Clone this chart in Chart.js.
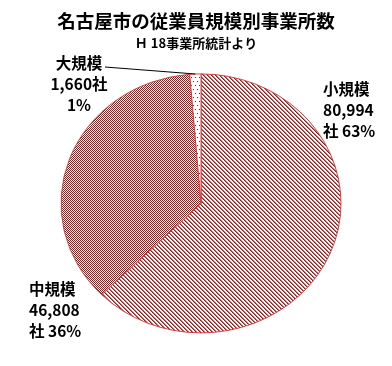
<!DOCTYPE html>
<html lang="ja">
<head>
<meta charset="utf-8">
<script src="https://cdn.jsdelivr.net/npm/chart.js@4.4.0/dist/chart.umd.min.js"></script>
<style>
  html, body { margin: 0; padding: 0; background: #fff; }
  #wrap { width: 392px; height: 366px; }
</style>
</head>
<body>
<div id="wrap"><canvas id="myChart" width="392" height="366"></canvas></div>
<script>
// data
const categories = ["小規模", "中規模", "大規模"];
const counts = [80994, 46808, 1660];
const percents = ["63%", "36%", "1%"];

const FONT = "'Noto Sans CJK JP', 'Noto Sans', sans-serif";
const RED = "#a31515";

// small tile patterns like the excel fills
const makePattern = (w, h, draw) => {
  const c = document.createElement("canvas");
  c.width = w;
  c.height = h;
  const g = c.getContext("2d");
  g.fillStyle = "#fff";
  g.fillRect(0, 0, w, h);
  draw(g);
  return g.createPattern(c, "repeat");
};

const stripes = makePattern(4, 4, (g) => {
  for (let i = 0; i < 4; i++) {
    g.fillStyle = RED;
    g.fillRect(i, i, 1, 1);
    g.fillStyle = "#d07070";
    g.fillRect((i + 1) % 4, i, 1, 1);
  }
});

const checker = makePattern(2, 2, (g) => {
  g.fillStyle = RED;
  g.fillRect(0, 0, 1, 1);
  g.fillRect(1, 1, 1, 1);
});

const dots = makePattern(4, 8, (g) => {
  g.fillStyle = RED;
  g.fillRect(1, 1, 1, 1);
  g.fillRect(3, 5, 1, 1);
});

const patterns = [stripes, checker, dots];

// where the text blocks sit, and how each one wraps
const labelLayout = [
  { x: 323, y: 89, align: "left", lines: (i) => [categories[i], counts[i].toLocaleString("en-US"), "社 " + percents[i]] },
  { x: 29, y: 289, align: "left", lines: (i) => [categories[i], counts[i].toLocaleString("en-US"), "社 " + percents[i]] },
  { x: 79, y: 63, align: "center", lines: (i) => [categories[i], counts[i].toLocaleString("en-US") + "社", percents[i]] },
];

const SQUASH = 0.925; // the original pie is a bit flatter than a circle
const SHIFT_X = 5;

const ovalPie = {
  id: "ovalPie",
  beforeDatasetsDraw(chart) {
    const arc = chart.getDatasetMeta(0).data[0];
    const ctx = chart.ctx;
    // keep the fill patterns pixel aligned under the squash
    const c = (arc.y * (SQUASH - 1)) / SQUASH;
    const m = new DOMMatrix().translate(-SHIFT_X, c).scale(1, 1 / SQUASH);
    patterns.forEach((p) => p.setTransform(m));
    ctx.save();
    ctx.translate(arc.x + SHIFT_X, arc.y);
    ctx.scale(1, SQUASH);
    ctx.translate(-arc.x, -arc.y);
  },
  afterDatasetsDraw(chart) {
    chart.ctx.restore();
  },
};

const pieLabels = {
  id: "pieLabels",
  afterDraw(chart) {
    const ctx = chart.ctx;
    const meta = chart.getDatasetMeta(0);
    ctx.save();
    ctx.fillStyle = "#000";
    ctx.font = "bold 15.5px " + FONT;
    ctx.textBaseline = "middle";
    labelLayout.forEach((l, i) => {
      ctx.textAlign = l.align;
      l.lines(i).forEach((t, k) => ctx.fillText(t, l.x, l.y + k * 21));
    });

    // leader line for the thin slice
    const arc = meta.data[2];
    const mid = (arc.startAngle + arc.endAngle) / 2;
    const ex = arc.x + SHIFT_X + Math.cos(mid) * arc.outerRadius;
    const ey = arc.y + Math.sin(mid) * arc.outerRadius * SQUASH;
    ctx.strokeStyle = "#000";
    ctx.lineWidth = 1;
    ctx.beginPath();
    ctx.moveTo(105, 67);
    ctx.lineTo(ex, ey);
    ctx.stroke();
    ctx.restore();
  },
};

const ctx = document.getElementById("myChart").getContext("2d");

new Chart(ctx, {
  type: "pie",
  data: {
    labels: categories,
    datasets: [
      {
        data: counts,
        backgroundColor: patterns,
        borderColor: "#d03a3a",
        borderWidth: 1,
        radius: 140,
      },
    ],
  },
  options: {
    responsive: false,
    animation: false,
    layout: { padding: { top: 0, bottom: 10, left: 0, right: 0 } },
    plugins: {
      legend: { display: false },
      tooltip: { enabled: false },
      title: {
        display: true,
        text: "名古屋市の従業員規模別事業所数",
        color: "#000",
        font: { family: FONT, size: 18.5, weight: "bold", lineHeight: 1.2 },
        padding: { top: 10, bottom: 0 },
      },
      subtitle: {
        display: true,
        text: "Ｈ 18事業所統計より",
        color: "#000",
        font: { family: FONT, size: 13, weight: "bold", lineHeight: 1.2 },
        padding: { top: 3, bottom: 0 },
      },
    },
  },
  plugins: [ovalPie, pieLabels],
});
</script>
</body>
</html>
